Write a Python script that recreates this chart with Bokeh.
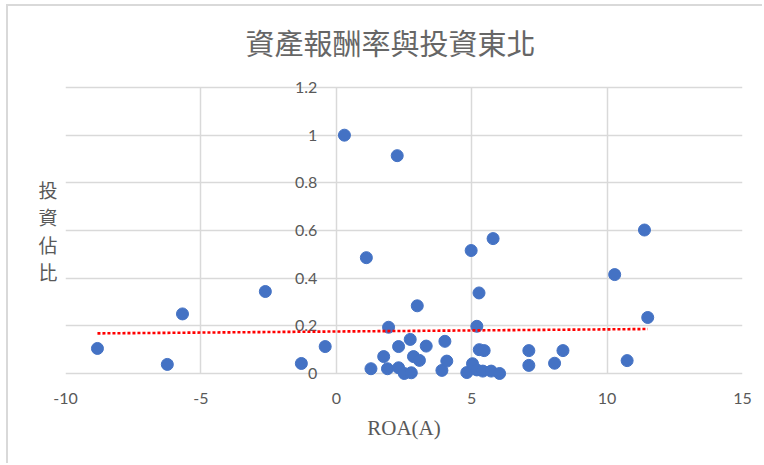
import numpy as np
from bokeh.plotting import figure
from bokeh.models import FixedTicker, ColumnDataSource
from bokeh.core.properties import value
from bokeh.embed import file_html
from bokeh.resources import INLINE

# ROA (%) against share of investment in the north-east
roa = [-8.82, -6.24, -5.68, -2.62, -1.29, -0.41,
       0.30, 1.11, 2.25, 1.93, 1.28, 1.75, 1.89, 2.30, 2.30, 2.51, 2.73, 2.77,
       2.85, 3.07, 2.99, 3.32,
       3.90, 4.01, 4.08,
       4.82, 5.03, 4.98, 5.27, 5.19, 5.28, 5.46, 5.19, 5.41, 5.72, 6.03, 5.79,
       7.11, 7.11, 8.06, 8.37,
       10.28, 11.38, 11.50, 10.74]
share = [0.105, 0.038, 0.250, 0.344, 0.042, 0.113,
         1.000, 0.486, 0.914, 0.194, 0.020, 0.071, 0.020, 0.113, 0.024, 0.000,
         0.143, 0.003, 0.071, 0.055, 0.284, 0.115,
         0.013, 0.135, 0.052,
         0.004, 0.041, 0.516, 0.338, 0.198, 0.100, 0.096, 0.015, 0.010, 0.010,
         0.000, 0.566,
         0.096, 0.034, 0.043, 0.096,
         0.415, 0.602, 0.235, 0.054]

x_ticks = [-10, -5, 0, 5, 10, 15]
x_tick_labels = ["-10", "-5", "0", "5", "10", "15"]
y_ticks = [0, 0.2, 0.4, 0.6, 0.8, 1.0, 1.2]
y_tick_labels = ["0", "0.2", "0.4", "0.6", "0.8", "1", "1.2"]

title_text = "資產報酬率與投資東北"
x_title = "ROA(A)"
y_title = "投資佔比"

GRID = "#d9d9d9"
TEXT = "#595959"
BLUE = "#4472C4"

# a little room above 1.2 and below 0 so the value labels on the
# vertical axis line (x = 0) are not cut by the plot frame
y_lo, y_hi = min(y_ticks), max(y_ticks)
pad = 0.0546
p = figure(width=756, height=459,
           x_range=(min(x_ticks), max(x_ticks)), y_range=(y_lo - pad, y_hi + pad),
           output_backend="svg", toolbar_location=None,
           min_border_left=57, min_border_right=22,
           min_border_top=68, min_border_bottom=79,
           background_fill_color="white", border_fill_color="white")
p.outline_line_color = None
p.styles = {"margin-left": "6px", "margin-top": "4px",
            "border-left": f"2px solid {GRID}", "border-top": f"2px solid {GRID}"}

# title
p.title.text = title_text
p.title.text_font = "Noto Sans CJK TC"
p.title.text_font_size = "29px"
p.title.text_font_style = "normal"
p.title.text_color = "#666666"
p.title.align = "left"
p.title.offset = 180
p.title.standoff = 24

# grid: verticals at the x ticks, horizontals at the y ticks, both
# limited to the 0..1.2 / -10..15 box
xt = FixedTicker(ticks=x_ticks)
yt = FixedTicker(ticks=y_ticks)
p.xgrid.ticker = xt
p.ygrid.ticker = yt
p.xgrid.cross_bounds = (y_lo, y_hi)
for g in (p.xgrid, p.ygrid):
    g.grid_line_color = GRID
    g.grid_line_width = 1.5

# x axis: only its labels; the 0 grid line acts as the axis line
p.xaxis.ticker = xt
p.xaxis.major_label_overrides = dict(zip(x_ticks, x_tick_labels))
p.xaxis.axis_line_color = None
p.xaxis.major_tick_line_color = None
p.xaxis.minor_tick_line_color = None
p.xaxis.major_label_text_font = "Lato"
p.xaxis.major_label_text_font_size = "16px"
p.xaxis.major_label_text_color = TEXT
p.xaxis.major_label_standoff = 0
p.xaxis.axis_label = x_title
p.xaxis.axis_label_text_font = "Liberation Serif"
p.xaxis.axis_label_text_font_size = "21px"
p.xaxis.axis_label_text_font_style = "normal"
p.xaxis.axis_label_text_color = TEXT
p.xaxis.axis_label_standoff = 9

# left axis only carries the stacked vertical title
p.yaxis.ticker = FixedTicker(ticks=[])
p.yaxis.axis_line_color = None
p.yaxis.major_tick_line_color = None
p.yaxis.minor_tick_line_color = None
p.yaxis.major_label_text_font_size = "0px"
p.yaxis.axis_label = "\n".join(y_title)
p.yaxis.axis_label_orientation = "horizontal"
p.yaxis.axis_label_text_font = "Noto Sans CJK TC"
p.yaxis.axis_label_text_font_size = "19px"
p.yaxis.axis_label_text_font_style = "normal"
p.yaxis.axis_label_text_color = TEXT
p.yaxis.axis_label_text_line_height = 1.02
p.yaxis.axis_label_standoff = 8

# value labels sit beside the vertical line at x = 0
p.text(x=[0] * len(y_ticks), y=y_ticks, text=y_tick_labels,
       x_offset=-19, text_align="right", text_baseline="middle",
       text_font=value("Lato"), text_font_size="16px", text_color=TEXT)

src = ColumnDataSource(dict(roa=roa, share=share))
p.scatter("roa", "share", source=src, size=12,
          fill_color=BLUE, line_color=BLUE, line_width=1)

# linear trend line over the data's x extent
coef = np.polyfit(roa, share, 1)
tx = np.array([min(roa), max(roa)])
p.line(tx, np.polyval(coef, tx), line_color="#FF0000",
       line_width=2.6, line_dash="3 2")

open("out.html", "w").write(file_html(p, INLINE))
